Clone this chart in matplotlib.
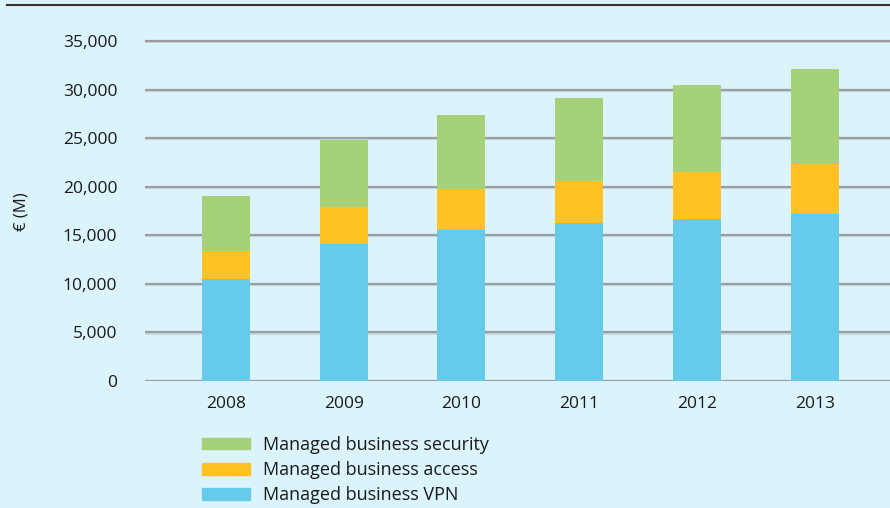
import numpy as np
import matplotlib.pyplot as plt
from matplotlib.patches import Patch
from matplotlib.lines import Line2D

plt.rcParams['font.family'] = ['Open Sans', 'DejaVu Sans']

# Data (EUR M)
years = ['2008', '2009', '2010', '2011', '2012', '2013']
vpn = [10500, 14100, 15550, 16250, 16700, 17200]
access = [2900, 3800, 4200, 4350, 4850, 5150]
security = [5650, 6900, 7650, 8500, 8900, 9750]

yticks = [0, 5000, 10000, 15000, 20000, 25000, 30000, 35000]
labels = ['Managed business security', 'Managed business access', 'Managed business VPN']

bg = '#dbf3fa'
c_vpn = '#66cbeb'
c_acc = '#ffc222'
c_sec = '#a5d279'

fig = plt.figure(figsize=(8.9, 5.08), dpi=100, facecolor=bg)
ax = fig.add_axes([145/890, 1-381/508, 1-145/890, (381-31.3)/508])
ax.set_facecolor(bg)

x = np.arange(len(years))
w = 48/117.8
vpn = np.array(vpn); access = np.array(access); security = np.array(security)

# gridlines (grey with a light shadow under)
for t in yticks:
    ax.axhline(t - 120, color='#c4d3d9', lw=1.2, zorder=0.5)
    ax.axhline(t, color='#9a9fa3', lw=1.6, zorder=0.6)

ax.bar(x, vpn, w, color=c_vpn, zorder=2)
ax.bar(x, access, w, bottom=vpn, color=c_acc, zorder=2)
ax.bar(x, security, w, bottom=vpn+access, color=c_sec, zorder=2)

ax.set_xlim(-0.688, 5.64)
ax.set_ylim(0, 36000)
ax.set_yticks(yticks)
ax.set_yticklabels([f'{t:,}' for t in yticks])
ax.set_xticks(x)
ax.set_xticklabels(years)
ax.tick_params(length=0, labelsize=12.5, colors='#1a1a1a')
ax.tick_params(axis='y', pad=20)
ax.tick_params(axis='x', pad=11)
for s in ax.spines.values():
    s.set_visible(False)

fig.text(22/890, 1-212/508, '€ (M)', rotation=90, ha='center', va='center',
         fontsize=12, color='#1a1a1a')

# top rule
fig.add_artist(Line2D([7/890, 1], [1-5/508, 1-5/508], color='#333333', lw=1.5))

handles = [Patch(color=c_sec), Patch(color=c_acc), Patch(color=c_vpn)]
fig.legend(handles, labels, loc='upper left', bbox_to_anchor=(202/890, 1-436/508),
           frameon=False, fontsize=13, handlelength=2.66, handleheight=0.61,
           handletextpad=0.72, labelspacing=0.4, borderpad=0, borderaxespad=0,
           labelcolor='#1a1a1a')

fig.savefig('out.png', dpi=100, facecolor=bg)
